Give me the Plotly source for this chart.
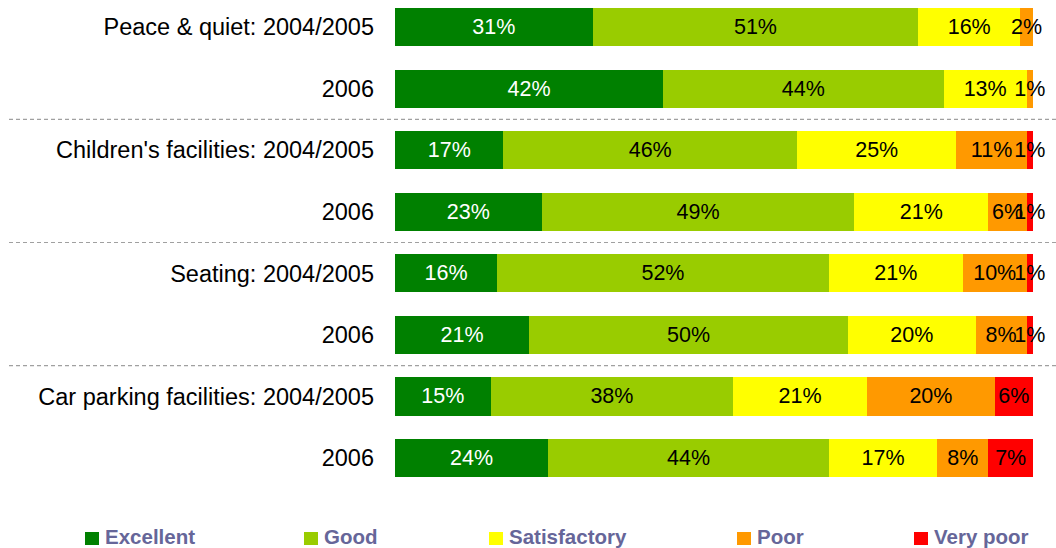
import plotly.graph_objects as go

rows = [
    "Peace & quiet: 2004/2005", "2006",
    "Children's facilities: 2004/2005", "2006",
    "Seating: 2004/2005", "2006",
    "Car parking facilities: 2004/2005", "2006",
]

excellent = [31, 42, 17, 23, 16, 21, 15, 24]
good = [51, 44, 46, 49, 52, 50, 38, 44]
satisfactory = [16, 13, 25, 21, 21, 20, 21, 17]
poor = [2, 1, 11, 6, 10, 8, 20, 8]
very_poor = [0, 0, 1, 1, 1, 1, 6, 7]

series = [
    ("Excellent", excellent, "#008000", "white"),
    ("Good", good, "#99CC00", "black"),
    ("Satisfactory", satisfactory, "#FFFF00", "black"),
    ("Poor", poor, "#FF9900", "black"),
    ("Very poor", very_poor, "#FF0000", "black"),
]

ypos = list(range(len(rows)))
FONT = "Liberation Sans, Arial, sans-serif"

fig = go.Figure()
for name, vals, color, tcolor in series:
    fig.add_trace(go.Bar(
        name=name, y=ypos, x=vals, orientation="h",
        marker=dict(color=color, line=dict(width=0)),
        width=0.62,
        text=[f"{v}%" if v > 0 else "" for v in vals],
        textposition="inside", insidetextanchor="middle", textangle=0,
        textfont=dict(family=FONT, size=21.5, color=tcolor),
        cliponaxis=False, showlegend=False, hoverinfo="skip",
    ))

# group separators
for yb in [1.5, 3.5, 5.5]:
    fig.add_shape(type="line", xref="paper", yref="y",
                  x0=(9 - 395) / 638, x1=(1056 - 395) / 638, y0=yb, y1=yb,
                  line=dict(color="#A0A0A0", width=1.2, dash="4px,3px"))

# legend row
legend_x = [85, 304, 489, 737, 914]
for (name, vals, color, tcolor), lx in zip(series, legend_x):
    fx = (lx - 395) / 638
    fig.add_shape(type="rect", xref="paper", yref="paper",
                  x0=fx, x1=fx + 14 / 638, y0=(480 - 545) / 480, y1=(480 - 532) / 480,
                  fillcolor=color, line=dict(width=0))
    fig.add_annotation(xref="paper", yref="paper", x=fx + 18 / 638, y=(480 - 536) / 480,
                       text=f"<b>{name}</b>", showarrow=False, xanchor="left", yanchor="middle",
                       font=dict(family=FONT, size=20.5, color="#666699"))

fig.update_layout(
    barmode="stack",
    width=1056, height=548,
    margin=dict(l=395, r=23, t=0, b=68),
    paper_bgcolor="white", plot_bgcolor="white",
    uniformtext=dict(minsize=21.5, mode="show"),
    xaxis=dict(range=[0, 100], visible=False, fixedrange=True),
    yaxis=dict(range=[7.357, -0.439], tickmode="array", tickvals=ypos, ticktext=rows,
               showgrid=False, zeroline=False, showline=False, ticks="",
               ticklabelstandoff=20,
               tickfont=dict(family=FONT, size=23.5, color="black")),
)

fig.write_html("out.html")
